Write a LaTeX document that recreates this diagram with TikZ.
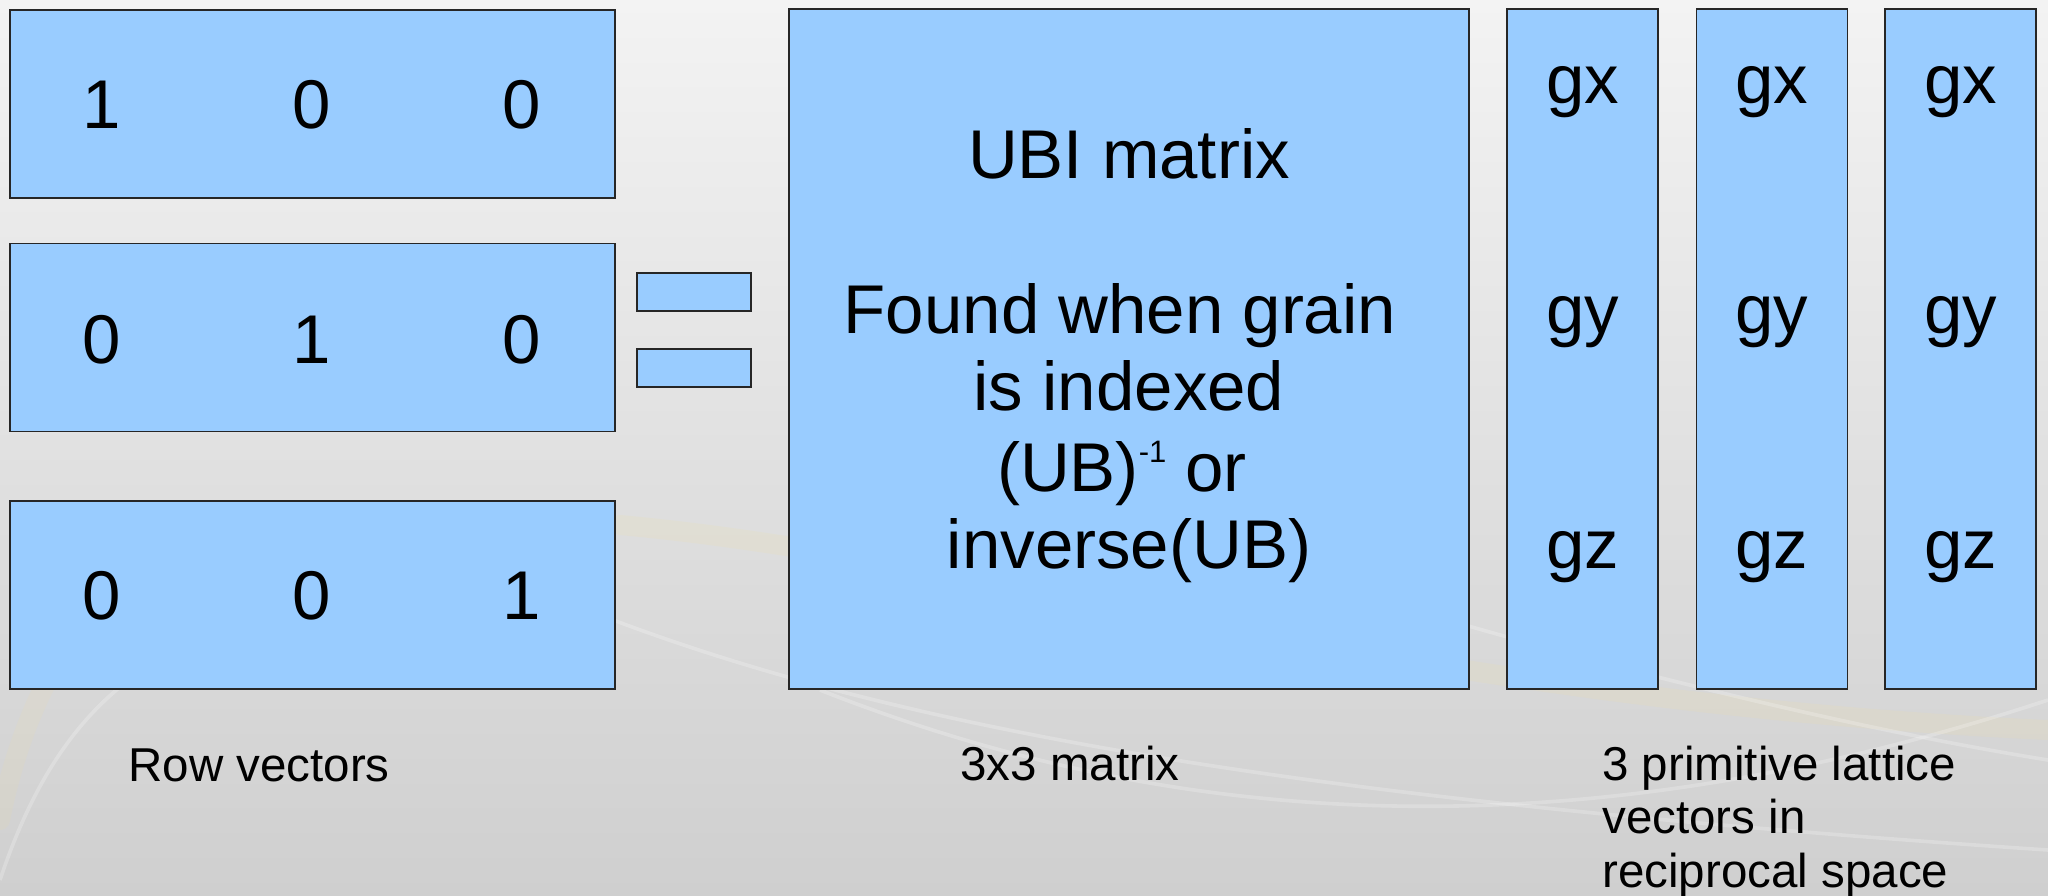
\documentclass[tikz,border=0pt]{standalone}
\usepackage{fontspec}
\setmainfont{Liberation Sans}
\definecolor{boxblue}{HTML}{99CCFF}
\definecolor{bgtop}{HTML}{F3F3F3}
\definecolor{bgbot}{HTML}{CFCFCF}
\definecolor{streak}{HTML}{F2DFA0}
\begin{document}
\begin{tikzpicture}[x=0.5pt,y=-0.5pt,
  box/.style={draw=black!85, line width=0.75pt, fill=boxblue, inner sep=0pt, outer sep=0pt},
  big/.style={font=\fontsize{34.5pt}{40pt}\selectfont, inner sep=0pt, anchor=base},
  small/.style={font=\fontsize{23.75pt}{27pt}\selectfont, inner sep=0pt, anchor=base west},
  swoosh/.style={draw=white, opacity=0.22, line width=1.8pt},
  rowbox/.style={box, minimum width=302.5pt, minimum height=94pt},
  eqbar/.style={box, minimum width=57pt, minimum height=19pt},
  colbox/.style={box, minimum width=75.5pt, minimum height=340pt}]
\useasboundingbox (0,0) rectangle (2048,895);
% background
\shade[top color=bgtop, bottom color=bgbot] (0,0) rectangle (2048,895);
\draw[streak, opacity=0.15, line width=10pt, line cap=round] (620,525) .. controls (1000,560) and (1400,700) .. (2048,730);
\draw[streak, opacity=0.12, line width=10pt, line cap=round] (0,820) .. controls (20,720) and (60,640) .. (120,580);
\draw[swoosh] (600,615) .. controls (900,730) and (1300,800) .. (2048,850);
\draw[swoosh] (820,690) .. controls (1100,800) and (1500,880) .. (2048,700);
\draw[swoosh] (1250,560) .. controls (1500,640) and (1800,720) .. (2048,760);
\draw[swoosh] (0,880) .. controls (40,760) and (100,680) .. (200,640);

% row vectors
\node[rowbox] (r1) at (312.5,104) {};
\node[rowbox] (r2) at (312.5,337.5) {};
\node[rowbox] (r3) at (312.5,595) {};
\node[big] (r1a) at (102,128) {1};
\node[big] (r1b) at (312,128) {0};
\node[big] (r1c) at (522,128) {0};
\node[big] (r2a) at (102,363) {0};
\node[big] (r2b) at (312,363) {1};
\node[big] (r2c) at (522,363) {0};
\node[big] (r3a) at (102,619) {0};
\node[big] (r3b) at (312,619) {0};
\node[big] (r3c) at (522,619) {1};

% equal sign
\node[eqbar] (e1) at (694,292) {};
\node[eqbar] (e2) at (694,368) {};

% UBI matrix
\node[box, minimum width=340pt, minimum height=340pt] (ubi) at (1129,349) {};
\node[big] (u1) at (1129,178) {UBI matrix};
\node[big] (u2) at (1120,333) {Found when grain};
\node[big] (u3) at (1129,410) {is indexed};
\node[big] (u4) at (1122,491) {(UB)\raisebox{14.5pt}{\fontsize{15.5pt}{16pt}\selectfont -1} or};
\node[big] (u5) at (1129,568) {inverse(UB)};

% lattice vector columns
\node[colbox] (c1) at (1582.5,349) {};
\node[colbox] (c2) at (1772,349) {};
\node[colbox] (c3) at (1960.5,349) {};
\foreach \c/\x in {1/1582.5, 2/1772, 3/1960.5} {
  \node[big] (gx\c) at (\x,103) {gx};
  \node[big] (gy\c) at (\x,333) {gy};
  \node[big] (gz\c) at (\x,568) {gz};
}

% captions
\node[small] (capa) at (128,781) {Row vectors};
\node[small] (capb) at (960,780) {3x3 matrix};
\node[small] (capc1) at (1602,780) {3 primitive lattice};
\node[small] (capc2) at (1602,833.5) {vectors in};
\node[small] (capc3) at (1602,887) {reciprocal space};
\end{tikzpicture}
\end{document}
